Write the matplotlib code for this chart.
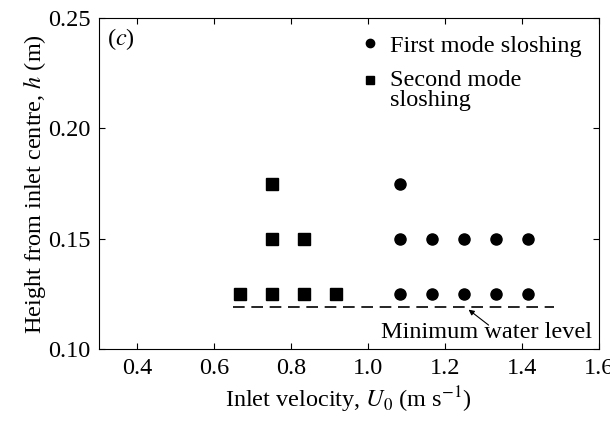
import matplotlib
matplotlib.use("Agg")
import matplotlib.pyplot as plt
import numpy as np

plt.rcParams['font.family'] = ['Liberation Serif', 'DejaVu Serif']
plt.rcParams['mathtext.fontset'] = 'stix'

# first mode sloshing (circles)
first_u = [13/12, 13/12, 7/6, 5/4, 4/3, 17/12, 13/12, 7/6, 5/4, 4/3, 17/12]
first_h = [0.175, 0.15, 0.15, 0.15, 0.15, 0.15, 0.125, 0.125, 0.125, 0.125, 0.125]

# second mode sloshing (squares)
second_u = [3/4, 3/4, 5/6, 2/3, 3/4, 5/6, 11/12]
second_h = [0.175, 0.15, 0.15, 0.125, 0.125, 0.125, 0.125]

# minimum water level line
min_level_u = [0.648, 1.484]
min_level_h = [0.119, 0.119]

xticks = [0.4, 0.6, 0.8, 1.0, 1.2, 1.4, 1.6]
yticks = [0.10, 0.15, 0.20, 0.25]

fs = 17.5

fig = plt.figure(figsize=(6.1, 4.21), dpi=100)
ax = fig.add_axes([0.162, 0.170, 0.820, 0.788])

ax.plot(first_u, first_h, 'o', color='k', markersize=8, label='First mode sloshing')
ax.plot(second_u, second_h, 's', color='k', markersize=8, label='Second mode\nsloshing')
ax.plot(min_level_u, min_level_h, color='k', lw=1.2, linestyle=(0, (7, 4)))

ax.text(1.307, 0.1051, 'Minimum water level', fontsize=fs, ha='center', va='baseline')
ax.annotate('', xy=(1.261, 0.1180), xytext=(1.313, 0.1110),
            arrowprops=dict(arrowstyle='-|>', lw=0.8, color='k', mutation_scale=8,
                            shrinkA=0, shrinkB=0))

ax.text(0.017, 0.935, r'($c$)', transform=ax.transAxes, fontsize=fs, va='center')

ax.set_xlim(0.3, 1.6)
ax.set_ylim(0.10, 0.25)
ax.set_xticks(xticks)
ax.set_yticks(yticks)
ax.set_xticklabels(['%.1f' % v for v in xticks])
ax.set_yticklabels(['%.2f' % v for v in yticks])
ax.tick_params(direction='in', top=True, right=True, length=4, labelsize=fs, pad=6)

ax.set_xlabel(r'Inlet velocity, $U_0$ (m s$^{-1}$)', fontsize=fs, labelpad=4)
ax.set_ylabel(r'Height from inlet centre, $h$ (m)', fontsize=fs, labelpad=0)

leg = ax.legend(loc='upper right', frameon=False, fontsize=fs, handlelength=0.8,
                handletextpad=0.45, borderaxespad=0.3, labelspacing=0.55,
                markerscale=0.75)
leg.get_texts()[1].set_linespacing(0.92)
# put the square next to the first line of its two-line label
h2 = leg.legend_handles[1]
h2.set_ydata(np.asarray(h2.get_ydata()) + 7.5)

fig.savefig('out.png', dpi=100)
